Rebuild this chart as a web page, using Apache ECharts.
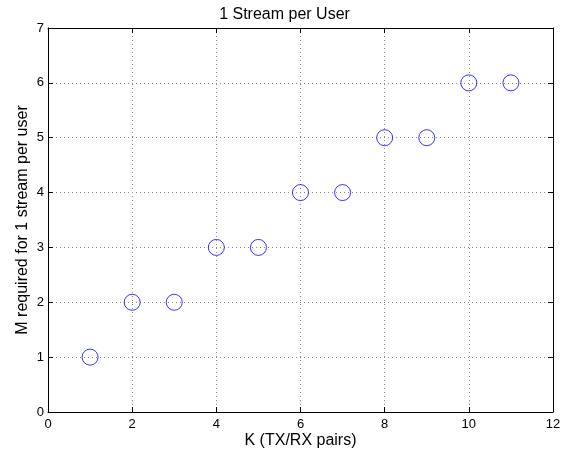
<!DOCTYPE html>
<html><head><meta charset="utf-8">
<script src="https://cdn.jsdelivr.net/npm/echarts@6/dist/echarts.min.js"></script>
<style>html,body{margin:0;padding:0;background:#fff}#c{width:569px;height:450px}</style>
</head><body><div id="c"></div>
<script>
const kValues = [1,2,3,4,5,6,7,8,9,10,11];
const mValues = [1,2,2,3,3,4,4,5,5,6,6];
const titleText = '1 Stream per User';
const xName = 'K (TX/RX pairs)';
const yName = 'M required for 1 stream per user';
const font = 'Liberation Sans, Arial, Helvetica, sans-serif';
const chart = echarts.init(document.getElementById('c'));
const lineStyle = {color:'#000', width:1};
const split = {show:true, lineStyle:{color:'#888', type:[1,3], width:1}};
function mirror(type, pos){
  return {type:'value', position:pos, min:0, max: type==='x'?12:7, interval: type==='x'?2:1,
    axisLine:{show:true, onZero:false, lineStyle}, axisTick:{show:true, inside:true, length:5, lineStyle},
    axisLabel:{show:false}, splitLine:{show:false}};
}
chart.setOption({
  animation:false,
  title:{text:titleText, left:'center', top:2, textStyle:{fontFamily:font, fontSize:16, fontWeight:'normal', color:'#000'}},
  grid:{left:48, right:16, top:28, bottom:38, containLabel:false, outerBoundsMode:'none'},
  xAxis:[{type:'value', min:0, max:12, interval:2, position:'bottom',
    name:xName, nameLocation:'middle', nameGap:21, nameMoveOverlap:false, nameTextStyle:{fontFamily:font, fontSize:16, color:'#000'},
    axisLine:{show:true, onZero:false, lineStyle}, axisTick:{show:true, inside:true, length:5, lineStyle},
    axisLabel:{fontFamily:font, fontSize:13, color:'#000', margin:6}, splitLine:split},
    mirror('x','top')],
  yAxis:[{type:'value', min:0, max:7, interval:1, position:'left',
    name:yName, nameLocation:'middle', nameGap:17, nameMoveOverlap:false, nameTextStyle:{fontFamily:font, fontSize:16, color:'#000'},
    axisLine:{show:true, onZero:false, lineStyle}, axisTick:{show:true, inside:true, length:5, lineStyle},
    axisLabel:{fontFamily:font, fontSize:13, color:'#000', margin:4}, splitLine:split},
    mirror('y','right')],
  series:[{type:'scatter', data:kValues.map((k,i)=>[k,mValues[i]]), symbol:'circle', symbolSize:16,
    itemStyle:{color:'rgba(0,0,0,0)', borderColor:'#0000ff', borderWidth:1}}]
});
</script></body></html>
